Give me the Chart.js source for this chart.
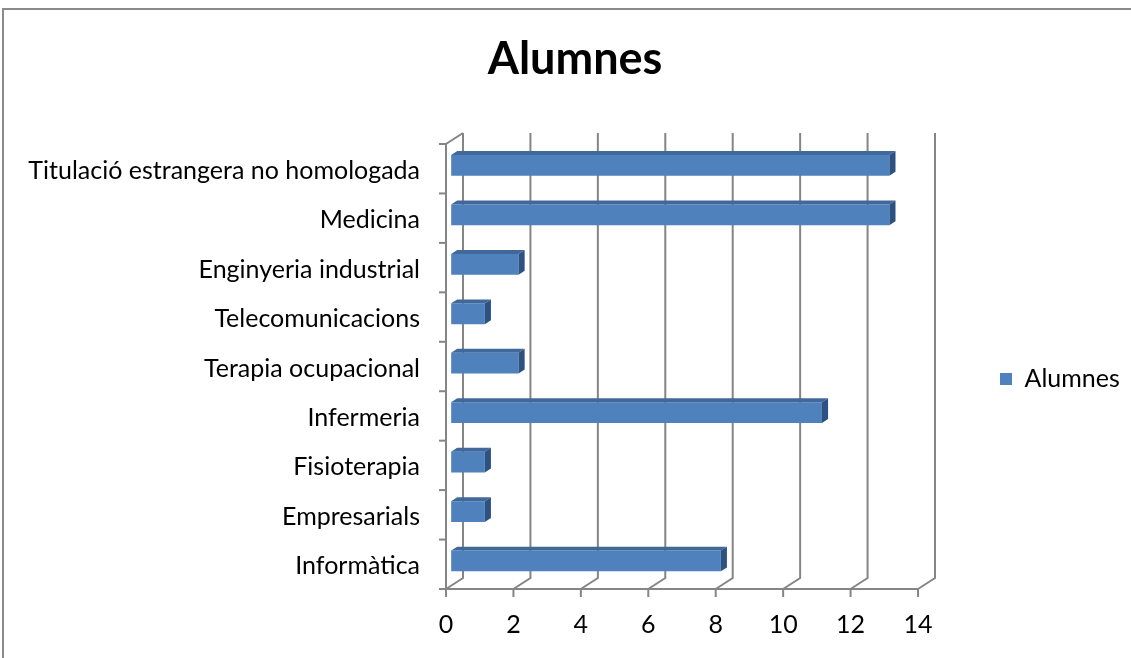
<!DOCTYPE html>
<html>
<head>
<meta charset="utf-8">
<style>
  html, body { margin: 0; padding: 0; background: #ffffff; }
  #wrap { width: 1131px; height: 658px; position: relative; }
  canvas { display: block; }
</style>
<script src="https://cdn.jsdelivr.net/npm/chart.js@4.4.1/dist/chart.umd.min.js"></script>
</head>
<body>
<div id="wrap"><canvas id="chart" width="1131" height="658"></canvas></div>
<script>
// ---- data ----
const categories = [
  "Titulació estrangera no homologada",
  "Medicina",
  "Enginyeria industrial",
  "Telecomunicacions",
  "Terapia ocupacional",
  "Infermeria",
  "Fisioterapia",
  "Empresarials",
  "Informàtica"
];
const seriesName = "Alumnes";
const alumnes = [13, 13, 2, 1, 2, 11, 1, 1, 8];
const xTicks = [0, 2, 4, 6, 8, 10, 12, 14];
const chartTitle = "Alumnes";

// ---- style ----
const FONT = "Lato, 'Open Sans', 'DejaVu Sans', sans-serif";
const LABEL_SIZE = 25;
const TITLE_SIZE = 45;
const GRID = '#858585';
const FRONT = '#4F81BD';
const TOP = '#41689A';
const SIDE = '#2D5281';
const DEPTH = { dx: 17, dy: -11 };
const BAR_FRONT = 0.3;
const BAR_DEPTH = 0.36;

// layout targets
const W = 1131, H = 658;
const AREA_LEFT = 446, AREA_RIGHT = 918, AREA_TOP = 144, AREA_BOTTOM = 589;
const LEGEND_BOX_X = 1000;
const TITLE_CX = 575;
const TITLE_PAD_TOP = 32;

const mctx = document.createElement('canvas').getContext('2d');
mctx.font = LABEL_SIZE + 'px ' + FONT;
const legendTextW = mctx.measureText(seriesName).width;
const legendPad = LEGEND_BOX_X - AREA_RIGHT;
const legendWidth = legendPad + 12 + LABEL_SIZE / 2 + legendTextW + 10;
const padR = Math.max(0, W - AREA_RIGHT - legendWidth);
const padL = 2 * TITLE_CX - W + padR;

function line(ctx, pts) {
  ctx.beginPath();
  ctx.moveTo(pts[0][0], pts[0][1]);
  for (let i = 1; i < pts.length; i++) ctx.lineTo(pts[i][0], pts[i][1]);
  ctx.stroke();
}

const threeD = {
  id: 'threeD',
  beforeDraw(chart) {
    const ctx = chart.ctx;
    ctx.save();
    ctx.strokeStyle = '#8a8a8a';
    ctx.lineWidth = 2;
    line(ctx, [[3, H], [3, 9], [W, 9]]);
    ctx.restore();
  },
  beforeDatasetsDraw(chart) {
    const { ctx, chartArea, scales } = chart;
    const { left, right, top, bottom } = chartArea;
    const x = scales.x, y = scales.y;
    ctx.save();
    ctx.strokeStyle = GRID;
    ctx.lineWidth = 2;
    xTicks.forEach(v => {
      const px = x.getPixelForValue(v);
      line(ctx, [[px + DEPTH.dx, top + DEPTH.dy], [px + DEPTH.dx, bottom + DEPTH.dy], [px, bottom]]);
      line(ctx, [[px, bottom], [px, bottom + 8]]);
    });
    line(ctx, [[left, bottom], [right, bottom]]);
    line(ctx, [[left + DEPTH.dx, top + DEPTH.dy], [left, top], [left, bottom]]);
    for (let i = 0; i <= categories.length; i++) {
      const yy = y.getPixelForValue(i - 0.5);
      line(ctx, [[left - 7, yy], [left, yy]]);
    }
    ctx.restore();
    ctx.save();
    ctx.translate(DEPTH.dx * BAR_FRONT, DEPTH.dy * BAR_FRONT);
  },
  afterDatasetsDraw(chart) {
    const ctx = chart.ctx;
    ctx.restore();
    const ox = DEPTH.dx * BAR_FRONT, oy = DEPTH.dy * BAR_FRONT;
    const ddx = DEPTH.dx * BAR_DEPTH, ddy = DEPTH.dy * BAR_DEPTH;
    const meta = chart.getDatasetMeta(0);
    ctx.save();
    meta.data.forEach(bar => {
      const p = bar.getProps(['x', 'y', 'base', 'height'], true);
      const x0 = Math.min(p.base, p.x) + ox, x1 = Math.max(p.base, p.x) + ox;
      const y0 = p.y - p.height / 2 + oy, y1 = p.y + p.height / 2 + oy;
      ctx.fillStyle = TOP;
      ctx.beginPath();
      ctx.moveTo(x0, y0); ctx.lineTo(x1, y0); ctx.lineTo(x1 + ddx, y0 + ddy); ctx.lineTo(x0 + ddx, y0 + ddy);
      ctx.closePath(); ctx.fill();
      ctx.fillStyle = SIDE;
      ctx.beginPath();
      ctx.moveTo(x1, y0); ctx.lineTo(x1, y1); ctx.lineTo(x1 + ddx, y1 + ddy); ctx.lineTo(x1 + ddx, y0 + ddy);
      ctx.closePath(); ctx.fill();
    });
    ctx.restore();
  }
};

new Chart(document.getElementById('chart'), {
  type: 'bar',
  data: {
    labels: categories,
    datasets: [{
      label: seriesName,
      data: alumnes,
      backgroundColor: FRONT,
      borderWidth: 0,
      barPercentage: 0.42,
      categoryPercentage: 1.0
    }]
  },
  options: {
    indexAxis: 'y',
    responsive: false,
    animation: false,
    devicePixelRatio: 1,
    layout: { padding: { left: padL, right: padR, top: 0, bottom: 0 } },
    plugins: {
      title: {
        display: true,
        text: chartTitle,
        color: '#000000',
        font: { family: FONT, size: TITLE_SIZE, weight: 'bold', lineHeight: 1.2 },
        padding: { top: TITLE_PAD_TOP, bottom: AREA_TOP - TITLE_PAD_TOP - TITLE_SIZE * 1.2 }
      },
      legend: {
        display: true,
        position: 'right',
        fullSize: false,
        title: { display: true, text: '', padding: 0, font: { size: 25, lineHeight: 1 } },
        labels: {
          color: '#000000',
          font: { family: FONT, size: LABEL_SIZE },
          boxWidth: 12,
          boxHeight: 12,
          padding: legendPad
        }
      },
      tooltip: { enabled: false }
    },
    scales: {
      x: {
        type: 'linear',
        min: 0,
        max: 14,
        afterFit(s) { s.height = H - AREA_BOTTOM; },
        afterBuildTicks(s) { s.ticks = xTicks.map(v => ({ value: v })); },
        grid: { display: false, drawTicks: false, tickLength: 0 },
        border: { display: false },
        ticks: { color: '#000000', font: { family: FONT, size: LABEL_SIZE }, padding: 21, maxRotation: 0 }
      },
      y: {
        type: 'category',
        afterFit(s) { s.width = AREA_LEFT - padL; },
        grid: { display: false, drawTicks: false, tickLength: 0 },
        border: { display: false },
        ticks: { color: '#000000', font: { family: FONT, size: LABEL_SIZE }, padding: 26, labelOffset: 2, autoSkip: false }
      }
    }
  },
  plugins: [threeD]
});
</script>
</body>
</html>
